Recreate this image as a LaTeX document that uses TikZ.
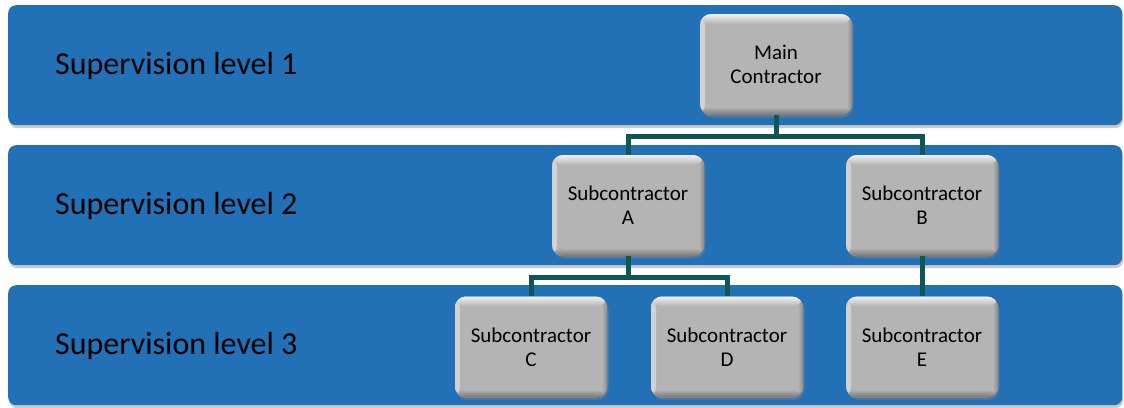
\documentclass[tikz,border=0pt]{standalone}
\usepackage{fontspec}
\setmainfont{Carlito}
\usetikzlibrary{shadows,calc}
\definecolor{bandblue}{RGB}{34,112,182}
\definecolor{boxgray}{RGB}{180,180,180}
\definecolor{conncol}{RGB}{15,87,87}
\tikzset{
  band/.style={fill=bandblue, rounded corners=8pt, minimum width=1114pt, minimum height=120pt,
    anchor=north west, inner sep=0pt,
    drop shadow={shadow xshift=1pt, shadow yshift=-3pt, opacity=0.35, fill=black!60}},
  bandlabel/.style={anchor=base west, font=\fontsize{32}{38}\selectfont, text=black, inner sep=0pt},
  orgbox/.style={fill=boxgray, rounded corners=11pt, minimum width=152pt, minimum height=101pt,
    align=center, inner sep=2pt, font=\fontsize{21}{24}\selectfont,
    drop shadow={shadow xshift=1.5pt, shadow yshift=-2.5pt, opacity=0.5},
    path picture={
      \shade[left color=white!40!boxgray, right color=boxgray]
        (path picture bounding box.north west) rectangle ([xshift=5pt]path picture bounding box.south west);
      \shade[left color=boxgray, right color=black!25!boxgray]
        ([xshift=-5pt]path picture bounding box.north east) rectangle (path picture bounding box.south east);
      \shade[top color=white!80!boxgray, bottom color=boxgray]
        (path picture bounding box.north west) rectangle ([yshift=-10pt]path picture bounding box.north east);
      \shade[top color=boxgray, bottom color=black!35!boxgray]
        ([yshift=8pt]path picture bounding box.south west) rectangle (path picture bounding box.south east);
    }},
  conn/.style={draw=conncol, line width=5pt}
}
\begin{document}
\begin{tikzpicture}[x=1pt,y=-1pt]
\useasboundingbox (0,0) rectangle (1124,407);
\node[band] (b1) at (8,5) {};
\node[band] (b2) at (8,145) {};
\node[band] (b3) at (8,285) {};
\node[bandlabel] (l1) at (55,74) {Supervision level 1};
\node[bandlabel] (l2) at (55,214) {Supervision level 2};
\node[bandlabel] (l3) at (55,354) {Supervision level 3};
\node[orgbox] (mc) at (776,64.5) {Main\\Contractor};
\node[orgbox] (sa) at (628,205.5) {Subcontractor\\A};
\node[orgbox] (sb) at (922,205.5) {Subcontractor\\B};
\node[orgbox] (sc) at (531,347) {Subcontractor\\C};
\node[orgbox] (sd) at (727,347) {Subcontractor\\D};
\node[orgbox] (se) at (922,347) {Subcontractor\\E};
\coordinate (j1) at ($(mc.south)+(0,21)$);
\coordinate (j2) at ($(sa.south)+(0,21)$);
\draw[conn] (mc.south) -- (j1) -| (sa.north);
\draw[conn] (j1) -| (sb.north);
\draw[conn] (sa.south) -- (j2) -| (sc.north);
\draw[conn] (j2) -| (sd.north);
\draw[conn] (sb.south) -- (se.north);
\end{tikzpicture}
\end{document}
